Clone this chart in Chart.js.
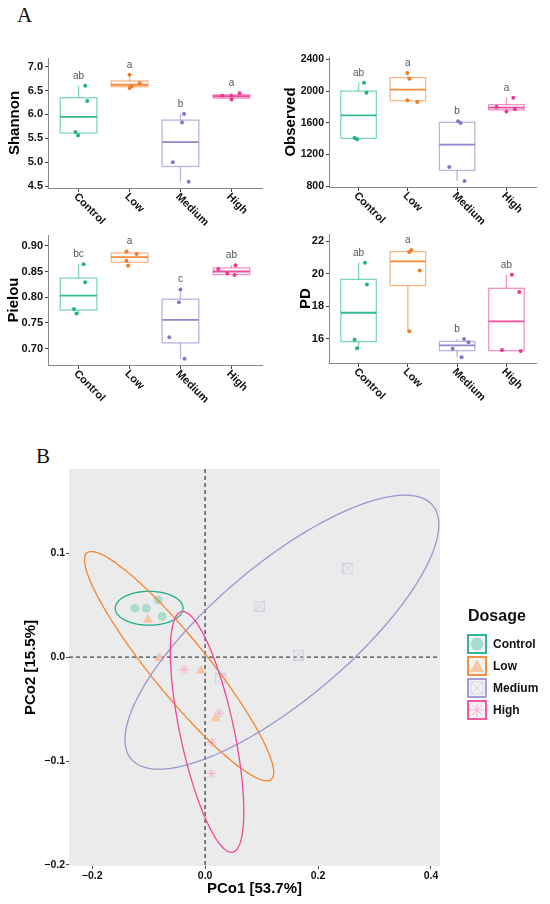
<!DOCTYPE html>
<html>
<head>
<meta charset="utf-8">
<script src="https://cdn.jsdelivr.net/npm/chart.js@4.4.1/dist/chart.umd.min.js"></script>
<style>
body { margin: 0; background: #fff; width: 550px; height: 904px; position: relative; overflow: hidden; }
canvas { position: absolute; }
.tag { position: absolute; font-family: "Liberation Serif", "Times New Roman", serif; font-size: 21px; color: #111; }
</style>
</head>
<body>
<div class="tag" style="left:17px;top:3px">A</div>
<div class="tag" style="left:36px;top:444px">B</div>
<canvas id="shannon-chart" width="275" height="190" style="left:0;top:45px"></canvas>
<canvas id="observed-chart" width="275" height="190" style="left:275px;top:45px"></canvas>
<canvas id="pielou-chart" width="275" height="190" style="left:0;top:222px"></canvas>
<canvas id="pd-chart" width="275" height="190" style="left:275px;top:222px"></canvas>
<canvas id="pcoa-chart" width="550" height="464" style="left:0;top:440px"></canvas>
<script>
const groups = ['Control', 'Low', 'Medium', 'High'];
const groupColors = ['#1DB38B', '#F47C26', '#8279C9', '#EE3A93'];

// box stats: [min, q1, median, q3, max]
const shannonBoxes = [[5.56, 5.61, 5.95, 6.35, 6.60], [6.55, 6.58, 6.62, 6.70, 6.83], [4.59, 4.91, 5.42, 5.88, 6.01], [6.31, 6.34, 6.38, 6.41, 6.44]];
const shannonPoints = [[6.60, 6.28, 5.63, 5.56], [6.83, 6.65, 6.59, 6.55], [6.01, 5.83, 5.00, 4.59], [6.39, 6.39, 6.44, 6.31]];
const shannonJitter = [[0.13, 0.17, -0.06, -0.01], [0, 0.2, 0.04, 0], [0.07, 0.03, -0.15, 0.16], [-0.18, 0, 0.16, 0]];
const shannonLetters = ['ab', 'a', 'b', 'a'];
const shannonTicks = [4.5, 5.0, 5.5, 6.0, 6.5, 7.0];
const shannonRange = [4.46, 7.18];

const observedBoxes = [[1392, 1404, 1694, 2000, 2106], [1862, 1878, 2018, 2169, 2228], [867, 999, 1325, 1606, 1619], [1741, 1763, 1791, 1829, 1917]];
const observedPoints = [[2106, 1980, 1408, 1392], [2228, 2157, 1883, 1862], [1619, 1597, 1043, 867], [1917, 1799, 1770, 1741]];
const observedJitter = [[0.11, 0.16, -0.08, -0.03], [-0.01, 0.03, -0.01, 0.19], [0.02, 0.07, -0.16, 0.15], [0.14, -0.2, 0.17, 0]];
const observedLetters = ['ab', 'a', 'b', 'a'];
const observedTicks = [800, 1200, 1600, 2000, 2400];
const observedRange = [790, 2430];

const pielouBoxes = [[0.768, 0.775, 0.803, 0.837, 0.864], [0.861, 0.868, 0.878, 0.886, 0.889], [0.680, 0.711, 0.756, 0.796, 0.815], [0.843, 0.844, 0.850, 0.857, 0.862]];
const pielouPoints = [[0.864, 0.829, 0.777, 0.768], [0.889, 0.884, 0.871, 0.861], [0.815, 0.790, 0.722, 0.680], [0.862, 0.855, 0.846, 0.843]];
const pielouJitter = [[0.10, 0.13, -0.09, -0.04], [-0.06, 0.14, -0.06, -0.03], [0, -0.03, -0.22, 0.08], [0.08, -0.26, -0.08, 0.06]];
const pielouLetters = ['bc', 'a', 'c', 'ab'];
const pielouTicks = [0.70, 0.75, 0.80, 0.85, 0.90];
const pielouRange = [0.668, 0.921];

const pdBoxes = [[15.42, 15.83, 17.61, 19.66, 20.69], [16.47, 19.28, 20.77, 21.37, 21.47], [14.87, 15.28, 15.60, 15.85, 16.00], [15.26, 15.28, 17.08, 19.11, 19.95]];
const pdPoints = [[20.69, 19.34, 15.95, 15.42], [21.47, 21.35, 20.2, 16.47], [16.0, 15.79, 15.40, 14.87], [19.95, 18.89, 15.32, 15.26]];
const pdJitter = [[0.13, 0.17, -0.08, -0.03], [0.07, 0.03, 0.24, 0.03], [0.14, 0.23, -0.09, 0.09], [0.11, 0.26, -0.09, 0.29]];
const pdLetters = ['ab', 'a', 'b', 'ab'];
const pdTicks = [16, 18, 20, 22];
const pdRange = [14.52, 22.45];

// PCoA sample scores, per group
const pco1 = [[-0.124, -0.104, -0.083, -0.076], [-0.101, -0.081, -0.007, 0.019], [0.253, 0.096, 0.165, 0.027], [-0.037, 0.025, 0.012, 0.011]];
const pco2 = [[0.047, 0.047, 0.055, 0.039], [0.036, -0.001, -0.013, -0.059], [0.085, 0.049, 0.002, -0.021], [-0.012, -0.054, -0.082, -0.112]];
const pco1Ticks = [-0.2, 0, 0.2, 0.4];
const pco2Ticks = [-0.2, -0.1, 0, 0.1];
const pco1Range = [-0.241, 0.416];
const pco2Range = [-0.201, 0.181];
// confidence ellipses: centre and two conjugate semi-axes, in data units
const ellipseCx = [-0.099, -0.046, 0.136, 0.0035];
const ellipseCy = [0.047, -0.0087, 0.024, -0.072];
const ellipseA = [[0.060, 0], [0.163, -0.109], [0.267, 0.122], [0.0453, -0.1157]];
const ellipseB = [[0, 0.0163], [0.0385, 0.0169], [-0.077, 0.050], [0.0467, 0.0054]];

const FONT = '"Liberation Sans", Arial, sans-serif';
Chart.defaults.font.family = FONT;

function fade(hex, a) {
    const n = parseInt(hex.slice(1), 16);
    return `rgba(${n >> 16}, ${(n >> 8) & 255}, ${n & 255}, ${a})`;
}

function boxChart(id, p) {
    const yr = p.range[1] - p.range[0];
    const boxes = {
        id: 'boxes',
        beforeDatasetsDraw(chart) {
            const { ctx, scales: { x, y } } = chart;
            const half = x.getPixelForValue(1.36) - x.getPixelForValue(1);
            p.boxes.forEach((s, i) => {
                const cx = x.getPixelForValue(i + 1);
                const [lo, q1, md, q3, hi] = s.map(v => y.getPixelForValue(v));
                ctx.save();
                ctx.strokeStyle = fade(groupColors[i], 0.55);
                ctx.lineWidth = 1.3;
                ctx.beginPath();
                ctx.moveTo(cx, lo); ctx.lineTo(cx, q1);
                ctx.moveTo(cx, q3); ctx.lineTo(cx, hi);
                ctx.stroke();
                ctx.strokeRect(cx - half, q3, half * 2, q1 - q3);
                ctx.strokeStyle = fade(groupColors[i], 0.9);
                ctx.lineWidth = 1.8;
                ctx.beginPath();
                ctx.moveTo(cx - half, md); ctx.lineTo(cx + half, md);
                ctx.stroke();
                ctx.restore();
            });
        },
        afterDraw(chart) {
            const { ctx, scales: { x, y }, chartArea } = chart;
            ctx.save();
            ctx.font = '10px ' + FONT;
            ctx.fillStyle = '#555';
            ctx.textAlign = 'center';
            ctx.textBaseline = 'middle';
            p.letters.forEach((t, i) => {
                ctx.fillText(t, x.getPixelForValue(i + 1), y.getPixelForValue(p.boxes[i][4] + yr * 0.075));
            });
            ctx.font = 'bold 11px ' + FONT;
            ctx.fillStyle = '#111';
            ctx.textAlign = 'left';
            groups.forEach((g, i) => {
                ctx.save();
                ctx.translate(x.getPixelForValue(i + 1) - 3, chartArea.bottom + 7);
                ctx.rotate(Math.PI / 4);
                ctx.fillText(g, 0, 0);
                ctx.restore();
            });
            ctx.restore();
        }
    };
    return new Chart(document.getElementById(id), {
        type: 'scatter',
        data: {
            datasets: groups.map((g, i) => ({
                label: g,
                data: p.points[i].map((v, j) => ({ x: i + 1 + p.jitter[i][j], y: v })),
                backgroundColor: groupColors[i],
                borderColor: groupColors[i],
                pointRadius: 2,
                pointBorderWidth: 0
            }))
        },
        plugins: [boxes],
        options: {
            responsive: false,
            animation: false,
            layout: { padding: { top: p.pad[0], right: p.pad[1], left: 0, bottom: 0 } },
            plugins: { legend: { display: false }, tooltip: { enabled: false } },
            scales: {
                x: {
                    type: 'linear', min: 0.4, max: 4.6,
                    afterBuildTicks: s => { s.ticks = groups.map((g, i) => ({ value: i + 1 })); },
                    afterFit: s => { s.height = p.xh; },
                    ticks: { display: false },
                    grid: { drawOnChartArea: false, tickLength: 4, color: '#444' },
                    border: { color: '#888', width: 1 }
                },
                y: {
                    min: p.range[0], max: p.range[1],
                    afterBuildTicks: s => { s.ticks = p.ticks.map(v => ({ value: v })); },
                    afterFit: s => { s.width = p.yw; },
                    ticks: {
                        font: { weight: 'bold', size: p.tf }, color: '#111', padding: 2,
                        callback: v => v.toFixed(p.dec)
                    },
                    grid: { drawOnChartArea: false, tickLength: 3, color: '#444' },
                    border: { color: '#888', width: 1 },
                    title: {
                        display: true, text: p.title, color: '#000',
                        font: { size: 15, weight: 'bold' }, padding: { top: p.tp, bottom: 0 }
                    }
                }
            }
        }
    });
}

boxChart('shannon-chart', { boxes: shannonBoxes, points: shannonPoints, jitter: shannonJitter, letters: shannonLetters,
    ticks: shannonTicks, range: shannonRange, dec: 1, title: 'Shannon', pad: [13, 13], yw: 48, xh: 47, tp: 6, tf: 11 });
boxChart('observed-chart', { boxes: observedBoxes, points: observedPoints, jitter: observedJitter, letters: observedLetters,
    ticks: observedTicks, range: observedRange, dec: 0, title: 'Observed', pad: [12, 14], yw: 54, xh: 48, tp: 7, tf: 10.5 });
boxChart('pielou-chart', { boxes: pielouBoxes, points: pielouPoints, jitter: pielouJitter, letters: pielouLetters,
    ticks: pielouTicks, range: pielouRange, dec: 2, title: 'Pielou', pad: [13, 13], yw: 48, xh: 47, tp: 5, tf: 11 });
boxChart('pd-chart', { boxes: pdBoxes, points: pdPoints, jitter: pdJitter, letters: pdLetters,
    ticks: pdTicks, range: pdRange, dec: 0, title: 'PD', pad: [12, 14], yw: 54, xh: 49, tp: 22, tf: 11 });

/*
  PCoA panel
*/
const squareX = document.createElement('canvas');
squareX.width = 11; squareX.height = 11;
const sq = squareX.getContext('2d');
sq.strokeStyle = '#d2cfe5';
sq.lineWidth = 1;
sq.strokeRect(0.5, 0.5, 10, 10);
sq.beginPath();
sq.moveTo(0.5, 0.5); sq.lineTo(10.5, 10.5);
sq.moveTo(10.5, 0.5); sq.lineTo(0.5, 10.5);
sq.stroke();

const pcoaStyles = ['circle', 'triangle', squareX, 'star'];
const pcoaFill = ['#a9dccf', '#f6c6a6', '#d2cfe5', '#f4b0cf'];
const pcoaRadius = [4, 5, 5, 5];
const ellipseColors = ['#1DAE8E', '#F48630', '#9B95CF', '#F0479A'];

function drawKeyShape(ctx, i, cx, cy) {
    ctx.save();
    ctx.fillStyle = pcoaFill[i];
    ctx.strokeStyle = pcoaFill[i];
    ctx.lineWidth = 1;
    ctx.beginPath();
    if (i === 0) {
        ctx.arc(cx, cy, 6.5, 0, Math.PI * 2);
        ctx.fill();
    } else if (i === 1) {
        ctx.moveTo(cx, cy - 7); ctx.lineTo(cx + 7, cy + 6); ctx.lineTo(cx - 7, cy + 6);
        ctx.closePath();
        ctx.fill();
    } else if (i === 2) {
        ctx.rect(cx - 6, cy - 6, 12, 12);
        ctx.moveTo(cx - 6, cy - 6); ctx.lineTo(cx + 6, cy + 6);
        ctx.moveTo(cx + 6, cy - 6); ctx.lineTo(cx - 6, cy + 6);
        ctx.stroke();
    } else {
        for (let k = 0; k < 4; k++) {
            const a = k * Math.PI / 4;
            ctx.moveTo(cx - 7 * Math.cos(a), cy - 7 * Math.sin(a));
            ctx.lineTo(cx + 7 * Math.cos(a), cy + 7 * Math.sin(a));
        }
        ctx.stroke();
    }
    ctx.restore();
}

const pcoaDecor = {
    id: 'pcoaDecor',
    beforeDraw(chart) {
        const { ctx, chartArea: a } = chart;
        ctx.save();
        ctx.fillStyle = '#EBEBEB';
        ctx.fillRect(a.left, a.top, a.right - a.left, a.bottom - a.top);
        ctx.restore();
    },
    beforeDatasetsDraw(chart) {
        const { ctx, chartArea: a, scales: { x, y } } = chart;
        ctx.save();
        ctx.strokeStyle = '#444';
        ctx.lineWidth = 1.3;
        ctx.setLineDash([4, 3]);
        ctx.beginPath();
        ctx.moveTo(x.getPixelForValue(0), a.top); ctx.lineTo(x.getPixelForValue(0), a.bottom);
        ctx.moveTo(a.left, y.getPixelForValue(0)); ctx.lineTo(a.right, y.getPixelForValue(0));
        ctx.stroke();
        ctx.restore();
    },
    afterDatasetsDraw(chart) {
        const { ctx, chartArea: a, scales: { x, y } } = chart;
        ctx.save();
        ctx.beginPath();
        ctx.rect(a.left, a.top, a.right - a.left, a.bottom - a.top);
        ctx.clip();
        ctx.lineWidth = 1.3;
        groups.forEach((g, i) => {
            ctx.beginPath();
            for (let k = 0; k <= 200; k++) {
                const t = k / 200 * Math.PI * 2;
                const vx = ellipseCx[i] + Math.cos(t) * ellipseA[i][0] + Math.sin(t) * ellipseB[i][0];
                const vy = ellipseCy[i] + Math.cos(t) * ellipseA[i][1] + Math.sin(t) * ellipseB[i][1];
                const px = x.getPixelForValue(vx), py = y.getPixelForValue(vy);
                if (k === 0) ctx.moveTo(px, py); else ctx.lineTo(px, py);
            }
            ctx.closePath();
            ctx.strokeStyle = ellipseColors[i];
            ctx.stroke();
        });
        ctx.restore();
    },
    afterDraw(chart) {
        const { ctx } = chart;
        ctx.save();
        ctx.fillStyle = '#111';
        ctx.textBaseline = 'middle';
        ctx.textAlign = 'left';
        ctx.font = 'bold 16px ' + FONT;
        ctx.fillText('Dosage', 468, 177);
        ctx.font = 'bold 12px ' + FONT;
        chart.data.datasets.forEach((ds, i) => {
            const cy = 204 + i * 22;
            ctx.fillStyle = '#F4F4F4';
            ctx.fillRect(468, cy - 9, 18, 18);
            drawKeyShape(ctx, i, 477, cy);
            ctx.strokeStyle = ellipseColors[i];
            ctx.lineWidth = 1.8;
            ctx.strokeRect(468, cy - 9, 18, 18);
            ctx.fillStyle = '#111';
            ctx.fillText(ds.label, 493, cy + 1);
        });
        ctx.restore();
    }
};

const minusFmt = v => (v < -1e-9 ? '\u2212' : '') + Math.abs(v).toFixed(1);

new Chart(document.getElementById('pcoa-chart'), {
    type: 'scatter',
    data: {
        datasets: groups.map((g, i) => ({
            label: g,
            data: pco1[i].map((v, j) => ({ x: v, y: pco2[i][j] })),
            pointStyle: pcoaStyles[i],
            pointRadius: pcoaRadius[i],
            backgroundColor: pcoaFill[i],
            borderColor: pcoaFill[i],
            borderWidth: 1
        }))
    },
    plugins: [pcoaDecor],
    options: {
        responsive: false,
        animation: false,
        layout: { padding: { top: 29, right: 110, left: 0, bottom: 0 } },
        plugins: { legend: { display: false }, tooltip: { enabled: false } },
        scales: {
            x: {
                min: pco1Range[0], max: pco1Range[1],
                afterBuildTicks: s => { s.ticks = pco1Ticks.map(v => ({ value: v })); },
                afterFit: s => { s.height = 38; },
                ticks: { font: { weight: 'bold', size: 10.5 }, color: '#111', padding: 1, callback: minusFmt },
                grid: { drawOnChartArea: false, tickLength: 3, color: '#444' },
                border: { display: false },
                title: { display: true, text: 'PCo1 [53.7%]', color: '#000', font: { size: 15, weight: 'bold' }, padding: { top: 0, bottom: 6 } }
            },
            y: {
                min: pco2Range[0], max: pco2Range[1],
                afterBuildTicks: s => { s.ticks = pco2Ticks.map(v => ({ value: v })); },
                afterFit: s => { s.width = 69; },
                ticks: { font: { weight: 'bold', size: 10.5 }, color: '#111', padding: 1, callback: minusFmt },
                grid: { drawOnChartArea: false, tickLength: 3, color: '#444' },
                border: { display: false },
                title: { display: true, text: 'PCo2 [15.5%]', color: '#000', font: { size: 15, weight: 'bold' }, padding: { top: 22, bottom: 0 } }
            }
        }
    }
});
</script>
</body>
</html>
